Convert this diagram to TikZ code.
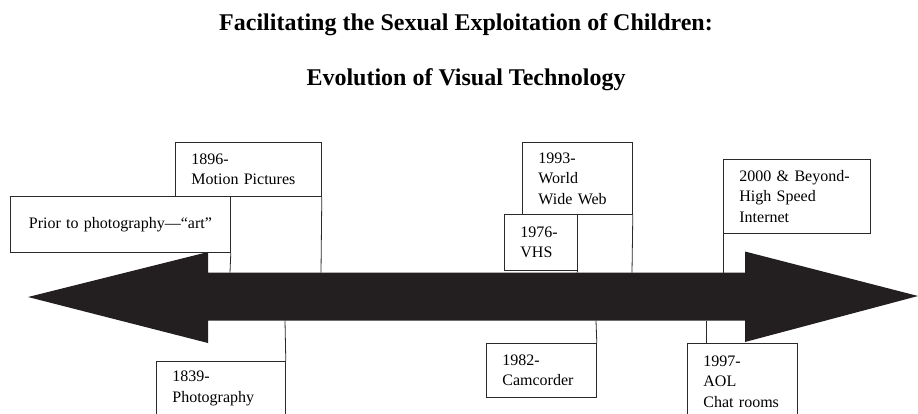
\documentclass[tikz,border=0pt]{standalone}
\usepackage{fontspec}
\setmainfont{Liberation Serif}
\definecolor{arrowc}{HTML}{231F20}
\definecolor{boxc}{HTML}{2A2A2A}
\begin{document}
\begin{tikzpicture}[x=1pt,y=-1pt,
  box/.style={draw=boxc, line width=0.8pt, fill=white, rectangle, anchor=north west,
    inner xsep=16pt, inner ysep=0pt, align=left, text=black,
    font=\fontsize{16}{20.5}\selectfont},
  lead/.style={draw=boxc, line width=0.8pt},
  ttl/.style={font=\fontsize{24}{28}\selectfont\bfseries, anchor=base, inner sep=0pt, text=black}]
\useasboundingbox (0,0) rectangle (918,413);
\clip (0,0) rectangle (918,413);

% titles
\node[ttl] (t1) at (466,30) {Facilitating the Sexual Exploitation of Children:};
\node[ttl] (t2) at (466,85) {Evolution of Visual Technology};

% double arrow
\fill[arrowc] (28,297) -- (208,252) -- (208,272.5) -- (745,272.5) -- (745,251.5)
  -- (918,296) -- (745,342) -- (745,320.5) -- (208,320.5) -- (208,343) -- cycle;

% attachment points on the arrow
\coordinate (aprior) at (230,272.5);
\coordinate (a1896) at (321,272.5);
\coordinate (a1976) at (577,272.5);
\coordinate (a1993) at (632,272.5);
\coordinate (a2000) at (723,272.5);
\coordinate (a1839) at (285,320.5);
\coordinate (a1982) at (596,320.5);
\coordinate (a1997) at (706,320.5);

% boxes above
\node[box, minimum width=146pt, text width=114pt, minimum height=54pt] (b1896) at (175,142) {1896-\\Motion Pictures};
\node[box, minimum width=220pt, text width=188pt, minimum height=56pt, align=center] (bprior) at (10,196) {Prior to photography—“art”};
\node[box, minimum width=110pt, text width=78pt, minimum height=72pt] (b1993) at (522,142) {1993-\\World\\Wide Web};
\node[box, minimum width=73pt, text width=41pt, minimum height=56pt] (b1976) at (504,214) {1976-\\VHS};
\node[box, minimum width=147pt, text width=115pt, minimum height=74pt] (b2000) at (723,159) {2000 \& Beyond-\\High Speed\\Internet};

% boxes below
\node[box, minimum width=129pt, text width=97pt, minimum height=54pt] (b1839) at (156,361) {1839-\\Photography};
\node[box, minimum width=110pt, text width=78pt, minimum height=54pt] (b1982) at (486,343) {1982-\\Camcorder};
\node[box, minimum width=110pt, text width=78pt, minimum height=76pt] (b1997) at (687,343) {1997-\\AOL\\Chat rooms};

% leader lines
\draw[lead] (bprior.south east) -- (aprior);
\draw[lead] (b1896.south east) -- (a1896);
\draw[lead] (b1976.south east) -- (a1976);
\draw[lead] (b1993.south east) -- (a1993);
\draw[lead] (b2000.south west) -- (a2000);
\draw[lead] (b1839.north east) -- (a1839);
\draw[lead] (b1982.north east) -- (a1982);
\draw[lead] (a1997 |- b1997.north) -- (a1997);
\end{tikzpicture}
\end{document}
